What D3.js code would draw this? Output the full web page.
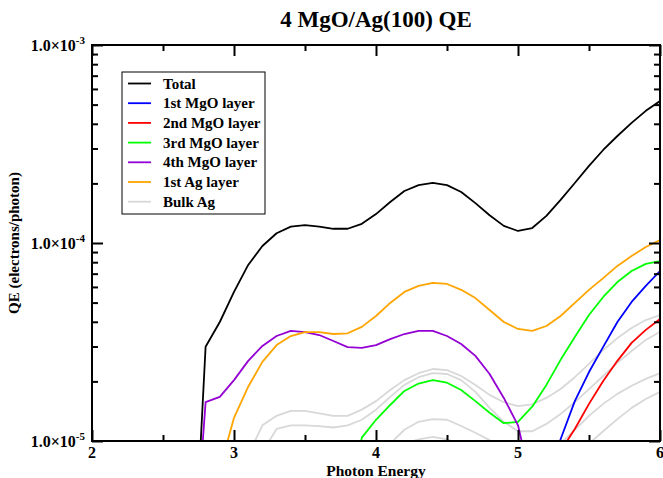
<!DOCTYPE html>
<html>
<head>
<meta charset="utf-8">
<script src="https://cdn.jsdelivr.net/npm/d3@7"></script>
<style>
  body { margin: 0; background: #fff; }
  text { font-family: "Liberation Serif", "Times New Roman", serif; font-weight: bold; }
</style>
</head>
<body>
<div id="chart"></div>
<script>
// photon energy grid (eV)
const energy = [2.7, 2.8, 2.9, 3.0, 3.1, 3.2, 3.3, 3.4, 3.5, 3.6, 3.7, 3.8, 3.9, 4.0, 4.1, 4.2, 4.3,
  4.4, 4.5, 4.6, 4.7, 4.8, 4.9, 5.0, 5.1, 5.2, 5.3, 5.4, 5.5, 5.6, 5.7, 5.8, 5.9, 6.0];

const total = [1.2e-6, 2.99e-5, 3.99e-5, 5.66e-5, 7.75e-5, 9.66e-5, 1.12e-4, 1.21e-4, 1.23e-4, 1.21e-4,
  1.18e-4, 1.18e-4, 1.25e-4, 1.40e-4, 1.61e-4, 1.83e-4, 1.96e-4, 2.01e-4, 1.96e-4, 1.81e-4, 1.59e-4,
  1.38e-4, 1.22e-4, 1.15e-4, 1.19e-4, 1.37e-4, 1.65e-4, 2.01e-4, 2.45e-4, 2.95e-4, 3.47e-4, 4.04e-4,
  4.65e-4, 5.21e-4];
const mgo1 = [null, null, null, null, null, null, null, null, null, null, null, null, null, null, null,
  null, null, null, null, null, null, null, null, null, null, 6.4e-6, 1.02e-5, 1.59e-5, 2.23e-5, 2.99e-5,
  3.99e-5, 5.04e-5, 6.07e-5, 7.22e-5];
const mgo2 = [null, null, null, null, null, null, null, null, null, null, null, null, null, null, null,
  null, null, null, null, null, null, null, null, null, null, null, 8.9e-6, 1.15e-5, 1.54e-5, 2.01e-5,
  2.54e-5, 3.13e-5, 3.64e-5, 4.13e-5];
const mgo3 = [null, null, null, null, null, null, null, null, null, null, null, 4.0e-6, 1.04e-5, 1.28e-5,
  1.52e-5, 1.79e-5, 1.95e-5, 2.03e-5, 1.97e-5, 1.81e-5, 1.59e-5, 1.39e-5, 1.23e-5, 1.25e-5, 1.49e-5,
  1.92e-5, 2.57e-5, 3.35e-5, 4.33e-5, 5.34e-5, 6.35e-5, 7.22e-5, 7.84e-5, 8.11e-5];
const mgo4 = [1.6e-6, 1.57e-5, 1.67e-5, 2.03e-5, 2.54e-5, 3.02e-5, 3.39e-5, 3.60e-5, 3.55e-5, 3.43e-5,
  3.20e-5, 2.98e-5, 2.95e-5, 3.05e-5, 3.27e-5, 3.47e-5, 3.60e-5, 3.60e-5, 3.39e-5, 3.09e-5, 2.69e-5,
  2.18e-5, 1.65e-5, 1.20e-5, 5.9e-6, null, null, null, null, null, null, null, null, null];
const ag1 = [null, null, 7.2e-6, 1.31e-5, 1.88e-5, 2.51e-5, 3.05e-5, 3.39e-5, 3.55e-5, 3.55e-5, 3.47e-5,
  3.50e-5, 3.77e-5, 4.28e-5, 4.98e-5, 5.66e-5, 6.07e-5, 6.29e-5, 6.21e-5, 5.80e-5, 5.27e-5, 4.59e-5,
  3.99e-5, 3.68e-5, 3.60e-5, 3.81e-5, 4.28e-5, 4.98e-5, 5.80e-5, 6.65e-5, 7.66e-5, 8.59e-5, 9.54e-5,
  1.035e-4];
// bulk Ag layers
const bulkA = [null, null, null, null, 8.5e-6, 1.20e-5, 1.34e-5, 1.42e-5, 1.42e-5, 1.38e-5, 1.34e-5,
  1.34e-5, 1.44e-5, 1.59e-5, 1.81e-5, 2.03e-5, 2.20e-5, 2.31e-5, 2.28e-5, 2.13e-5, 1.92e-5, 1.71e-5,
  1.57e-5, 1.50e-5, 1.53e-5, 1.65e-5, 1.83e-5, 2.10e-5, 2.45e-5, 2.88e-5, 3.31e-5, 3.72e-5, 4.08e-5,
  4.33e-5];
const bulkB = [null, null, null, null, null, 8.8e-6, 1.15e-5, 1.20e-5, 1.20e-5, 1.19e-5, 1.17e-5,
  1.20e-5, 1.28e-5, 1.44e-5, 1.67e-5, 1.92e-5, 2.10e-5, 2.20e-5, 2.18e-5, 2.03e-5, 1.77e-5, 1.47e-5,
  1.25e-5, 1.12e-5, 1.12e-5, 1.22e-5, 1.37e-5, 1.57e-5, 1.83e-5, 2.13e-5, 2.48e-5, 2.85e-5, 3.24e-5,
  3.56e-5];
const bulkC = [null, null, null, null, null, null, null, null, null, null, null, null, null, 8.8e-6,
  9.7e-6, 1.14e-5, 1.25e-5, 1.29e-5, 1.28e-5, 1.19e-5, 1.10e-5, 1.01e-5, 9.0e-6, 8.4e-6, 8.5e-6, 9.0e-6,
  9.7e-6, 1.14e-5, 1.34e-5, 1.54e-5, 1.73e-5, 1.90e-5, 2.06e-5, 2.20e-5];
const bulkD = [null, null, null, null, null, null, null, null, null, null, null, null, null, null,
  8.8e-6, 9.7e-6, 1.02e-5, 1.05e-5, 1.02e-5, 9.6e-6, 8.5e-6, 7.5e-6, 6.8e-6, 6.5e-6, 6.5e-6, 6.8e-6,
  7.3e-6, 8.5e-6, 9.7e-6, 1.12e-5, 1.29e-5, 1.47e-5, 1.63e-5, 1.77e-5];

const legendNames = ["Total", "1st MgO layer", "2nd MgO layer", "3rd MgO layer", "4th MgO layer", "1st Ag layer", "Bulk Ag"];
const legendColors = ["#000000", "#0000ff", "#ff0000", "#00ff00", "#9400d3", "#ffa500", "#d8d8d8"];

const xTicks = [2, 3, 4, 5, 6];
const yDecades = [1e-5, 1e-4, 1e-3];
const yDecadeExp = ["-5", "-4", "-3"];

const W = 663, H = 478;
const plot = { left: 92, right: 660, top: 45, bottom: 441 };

const svg = d3.select('#chart').append('svg')
  .attr('width', W)
  .attr('height', H);

const x = d3.scaleLinear().domain([2, 6]).range([plot.left, plot.right]);
const y = d3.scaleLog().domain([1e-5, 1e-3]).range([plot.bottom, plot.top]);

svg.append('clipPath').attr('id', 'clip')
  .append('rect')
  .attr('x', plot.left).attr('y', plot.top)
  .attr('width', plot.right - plot.left).attr('height', plot.bottom - plot.top);

const line = d3.line()
  .defined(d => d[1] != null)
  .x(d => x(d[0]))
  .y(d => y(d[1]));

const series = [
  { v: bulkA, c: legendColors[6] },
  { v: bulkB, c: legendColors[6] },
  { v: bulkC, c: legendColors[6] },
  { v: bulkD, c: legendColors[6] },
  { v: total, c: legendColors[0] },
  { v: mgo1, c: legendColors[1] },
  { v: mgo2, c: legendColors[2] },
  { v: mgo3, c: legendColors[3] },
  { v: mgo4, c: legendColors[4] },
  { v: ag1, c: legendColors[5] }
];

const g = svg.append('g').attr('clip-path', 'url(#clip)');
series.forEach(s => {
  g.append('path')
    .datum(energy.map((e, i) => [e, s.v[i]]))
    .attr('d', line)
    .attr('fill', 'none')
    .attr('stroke', s.c)
    .attr('stroke-width', 1.8)
    .attr('stroke-linejoin', 'round');
});

// minor tick values
const xMinor = [2.5, 3.5, 4.5, 5.5];
const yMinor = [];
[1e-5, 1e-4].forEach(d => { for (let k = 2; k <= 9; k++) yMinor.push(d * k); });

// axes: ticks point into the plot
function tickless(a) { return a.tickFormat('').tickSizeOuter(0); }

svg.append('g').attr('transform', `translate(0,${plot.bottom})`)
  .call(tickless(d3.axisBottom(x).tickValues(xTicks).tickSizeInner(-11)));
svg.append('g').attr('transform', `translate(0,${plot.bottom})`)
  .call(tickless(d3.axisBottom(x).tickValues(xMinor).tickSizeInner(-6)));
svg.append('g').attr('transform', `translate(0,${plot.top})`)
  .call(tickless(d3.axisTop(x).tickValues(xTicks).tickSizeInner(-11)));
svg.append('g').attr('transform', `translate(0,${plot.top})`)
  .call(tickless(d3.axisTop(x).tickValues(xMinor).tickSizeInner(-6)));
svg.append('g').attr('transform', `translate(${plot.left},0)`)
  .call(tickless(d3.axisLeft(y).tickValues(yDecades).tickSizeInner(-11)));
svg.append('g').attr('transform', `translate(${plot.left},0)`)
  .call(tickless(d3.axisLeft(y).tickValues(yMinor).tickSizeInner(-6)));
svg.append('g').attr('transform', `translate(${plot.right},0)`)
  .call(tickless(d3.axisRight(y).tickValues(yDecades).tickSizeInner(-11)));
svg.append('g').attr('transform', `translate(${plot.right},0)`)
  .call(tickless(d3.axisRight(y).tickValues(yMinor).tickSizeInner(-6)));

svg.selectAll('.domain').remove();
svg.selectAll('.tick line').attr('stroke', '#000').attr('stroke-width', 2);

svg.append('rect')
  .attr('x', plot.left).attr('y', plot.top)
  .attr('width', plot.right - plot.left).attr('height', plot.bottom - plot.top)
  .attr('fill', 'none').attr('stroke', '#000').attr('stroke-width', 2);

// x tick labels
svg.selectAll('.xlab').data(xTicks).enter().append('text')
  .attr('x', d => x(d))
  .attr('y', plot.bottom + 17)
  .attr('text-anchor', 'middle')
  .attr('font-size', 16)
  .text(d => d);

// y tick labels with superscripts
yDecades.forEach((d, i) => {
  const t = svg.append('text')
    .attr('x', plot.left - 7)
    .attr('y', y(d) + 6)
    .attr('text-anchor', 'end')
    .attr('font-size', 16);
  t.append('tspan').text('1.0\u00d710');
  t.append('tspan').attr('dy', -7).attr('font-size', 11).text(yDecadeExp[i]);
});

svg.append('text')
  .attr('x', (plot.left + plot.right) / 2)
  .attr('y', 27)
  .attr('text-anchor', 'middle')
  .attr('font-size', 23)
  .text('4 MgO/Ag(100) QE');

svg.append('text')
  .attr('x', (plot.left + plot.right) / 2)
  .attr('y', 476)
  .attr('text-anchor', 'middle')
  .attr('font-size', 15.5)
  .text('Photon Energy');

svg.append('text')
  .attr('transform', `translate(19,${(plot.top + plot.bottom) / 2}) rotate(-90)`)
  .attr('text-anchor', 'middle')
  .attr('font-size', 15)
  .text('QE (electrons/photon)');

// legend
const legend = svg.append('g').attr('transform', 'translate(122,72)');
legend.append('rect')
  .attr('width', 143).attr('height', 142)
  .attr('fill', '#fff').attr('stroke', '#000').attr('stroke-width', 1);

const entries = legend.selectAll('.legend-entry')
  .data(legendNames)
  .enter().append('g')
  .attr('class', 'legend-entry')
  .attr('transform', (d, i) => `translate(0,${11.5 + i * 19.7})`);

entries.append('line')
  .attr('x1', 6).attr('x2', 29)
  .attr('stroke', (d, i) => legendColors[i])
  .attr('stroke-width', 1.8);

entries.append('text')
  .attr('x', 41)
  .attr('y', 5)
  .attr('font-size', 15)
  .text(d => d);
</script>
</body>
</html>
